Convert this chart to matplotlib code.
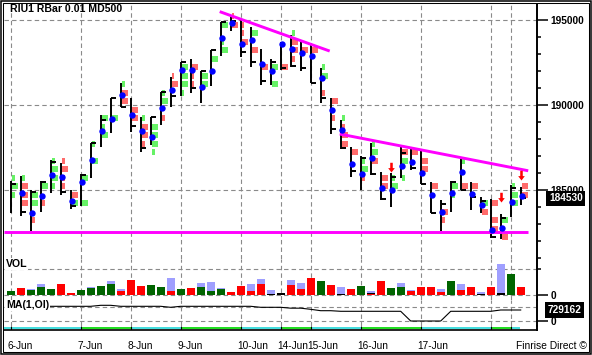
import numpy as np
import matplotlib.pyplot as plt
from matplotlib.path import Path
from matplotlib.patches import Rectangle
from matplotlib.transforms import blended_transform_factory

plt.rcParams['font.family'] = ['Liberation Sans', 'DejaVu Sans']

# range bars: high, low, right tick, blue dot
bar_high = [185565, 185840, 185020, 185550, 186780, 186620, 185020, 185960, 187770, 189430,
            190410, 191330, 190410, 189290, 189330, 190800, 191650, 192530, 192710, 192040,
            193250, 194920, 195310, 195020, 194620, 193290, 192710, 193740, 194140, 193740,
            193650, 192180, 190410, 189140, 187530, 187020, 187770, 186080, 186020, 187530,
            187470, 187330, 185510, 184430, 185550, 186980, 185510, 184620, 184490, 183610,
            185310, 185210]
bar_low = [183647, 183510, 182610, 183710, 184860, 184710, 183920, 184080, 185710, 187570,
           188390, 189920, 188450, 187270, 187670, 188840, 189880, 190550, 190710, 190150,
           191140, 192900, 194390, 192820, 192270, 191190, 191190, 192080, 192270, 192040,
           191290, 190150, 188310, 187410, 185800, 185020, 185900, 184430, 184000, 185710,
           186190, 185370, 183680, 182620, 183740, 185020, 183840, 183650, 182180, 182120,
           183450, 184140]
bar_tick = [185370, 183710, 184920, 185490, 186650, 184900, 184090, 185880, 187770, 189140,
            190410, 189920, 188780, 187470, 189310, 190800, 190550, 192530, 191000, 192000,
            193250, 194920, 194980, 193150, 192530, 191430, 192550, 192190, 192310, 192200,
            191290, 190410, 188590, 187470, 186140, 186880, 185960, 184490, 185800, 187210,
            186310, 185370, 183680, 184190, 185510, 185020, 184610, 184380, 182240, 183390,
            185140, 184530]
bar_dot = [np.nan, 184820, 183650, 184670, 185900, 185770, 184370, 185490, 186780, 188470,
           189180, 190610, 189430, 188470, 188120, 189820, 190900, 192060, 192060, 191060,
           192000, 193940, 194860, 193610, 193840, 192410, 192020, 193590, 193290, 193060,
           192900, 191590, 189720, 188550, 186550, 185960, 186880, 185120, 185020, 186430,
           186680, 186040, 184720, 183740, 184860, 186060, 184770, 184140, 182670, 182770,
           184330, 184670]

# profile cells next to each bar: (500-point price bin, code) G/R full, g/r narrow
profile = [
    [(185500, 'g'), (185000, 'G'), (184500, 'g')],
    [(185500, 'g'), (185000, 'R'), (184500, 'R'), (184000, 'R')],
    [(184500, 'G'), (184000, 'G'), (183000, 'r')],
    [(185000, 'G'), (184000, 'r')],
    [(186500, 'g'), (186000, 'G'), (185500, 'G'), (185000, 'g')],
    [(186500, 'r'), (186000, 'R'), (185500, 'r'), (185000, 'r')],
    [(184500, 'R'), (184000, 'G')],
    [(185500, 'G'), (184000, 'G')],
    [(187500, 'g'), (186500, 'G')],
    [(189000, 'G'), (188500, 'g'), (188000, 'G')],
    [(189000, 'G')],
    [(191000, 'g'), (190500, 'R'), (190000, 'R')],
    [(189500, 'R'), (189000, 'R')],
    [(189000, 'g'), (188500, 'R'), (188000, 'R'), (187500, 'r')],
    [(188500, 'G'), (188000, 'G'), (187500, 'G'), (187000, 'g')],
    [(190500, 'g'), (190000, 'G'), (189000, 'r')],
    [(191500, 'r'), (191000, 'R')],
    [(192000, 'G'), (191500, 'G'), (191000, 'G'), (190500, 'g')],
    [(192000, 'R'), (191500, 'r'), (191000, 'r')],
    [(191500, 'G'), (191000, 'G')],
    [(192500, 'G')],
    [(194500, 'G'), (193500, 'g'), (193000, 'G')],
    [(195000, 'r'), (194500, 'R')],
    [(194500, 'r'), (194000, 'r'), (193500, 'R')],
    [(194000, 'G'), (193000, 'R')],
    [(192000, 'R')],
    [(192000, 'G'), (191000, 'G')],
    [(192000, 'R')],
    [(194000, 'g'), (193500, 'R'), (193000, 'R'), (192500, 'r')],
    [(193000, 'R')],
    [(193000, 'R')],
    [(192000, 'g'), (191500, 'G'), (190500, 'r')],
    [(190000, 'R'), (189000, 'r')],
    [(189000, 'g'), (188500, 'r'), (188000, 'R'), (187500, 'R')],
    [(187000, 'R')],
    [(186500, 'g'), (186000, 'G'), (185500, 'r')],
    [(187500, 'g'), (187000, 'G'), (186500, 'R')],
    [(185500, 'R'), (185000, 'R')],
    [(185500, 'g'), (185000, 'G')],
    [(187000, 'R'), (186500, 'G'), (185500, 'g')],
    [(187000, 'R')],
    [(186500, 'R'), (186000, 'R')],
    [(185000, 'R')],
    [(183500, 'R'), (183000, 'r')],
    [(185000, 'G'), (184500, 'g')],
    [(186500, 'g'), (185000, 'R')],
    [(185000, 'R')],
    [(184000, 'G'), (183500, 'R')],
    [(184000, 'R'), (183000, 'R'), (182500, 'R')],
    [(183000, 'G'), (182000, 'R')],
    [(185000, 'g'), (184500, 'G'), (184000, 'G')],
    [(185000, 'R'), (184500, 'R')],
]

arrow_bars = [38, 49, 51]
arrow_tips = [186060, 184330, 185580]

# drawn lines (bar index, price)
trend_a_x, trend_a_y = [20.9, 31.9], [195510, 193190]
trend_b_x, trend_b_y = [32.9, 51.75], [188310, 186150]
support_x, support_y = [-0.72, 51.75], [182550, 182550]

# volume: main part, colour, black part, light blue part
vol_main = [4, 7, 5, 8, 6, 11, 1.7, 5, 7, 9, 11, 4, 15, 9, 10, 8, 4, 6, 7, 8, 4, 6, 3, 9, 4, 11,
            0, 0, 10, 6, 17, 14, 10, 0, 6, 9, 1.5, 14, 7, 8, 4, 8, 8, 3, 14, 5, 8, 0, 8, 0, 21, 8]
vol_col = ['g', 'r', 'g', 'g', 'g', 'r', 'r', 'g', 'g', 'g', 'g', 'r', 'r', 'r', 'g', 'g', 'r', 'g',
           'r', 'g', 'g', 'g', 'r', 'r', 'r', 'r', 'r', 'r', 'r', 'r', 'r', 'g', 'r', 'r', 'r', 'g',
           'r', 'r', 'g', 'g', 'r', 'r', 'r', 'r', 'g', 'r', 'r', 'r', 'r', 'r', 'g', 'r']
vol_blk = [0, 0, 0, 0, 0, 0, 0.7, 0, 0, 0, 0, 0, 0, 0, 0, 0, 0, 0, 0, 0, 0, 0, 0, 0, 0, 0,
           1.3, 2, 0, 0, 0, 0, 0, 1.3, 0, 0, 0.7, 0, 0, 0, 0, 0, 0, 0, 0, 0, 0, 1, 0, 2, 0, 0]
vol_lav = [0, 0, 1, 3, 0, 0, 0, 0, 1, 0, 3, 2, 0, 0, 0, 0, 13, 0, 0, 4, 9, 1, 0, 0, 7, 5,
           3.5, 0, 5, 6, 0, 0, 0, 6.5, 0, 0, 1.8, 0, 0, 4, 1, 0, 0, 3, 0, 6, 0, 2, 0, 29, 0, 0]

# MA(1,OI)
oi = [974000] * 9 + [1040000] * 2 + [974000] * 5 + [908000] + [974000] * 8 + [908000] * 3 + \
     [850000] * 2 + [775000] + [683000] * 2 + [643000] * 7 + [0] * 4 + [643000] * 5 + [729162] * 3

day_start = [0, 7, 12, 17, 23, 27, 30, 35, 41, 48, 50]
day_label = ['6-Jun', '7-Jun', '8-Jun', '9-Jun', '10-Jun', '14-Jun', '15-Jun', '16-Jun', '17-Jun', '', '']
last_price = 184530
last_oi = 729162

W, H = 592, 355


def box(top, bottom, left=3.5, right=537):
    return [left / W, 1 - bottom / H, (right - left) / W, (bottom - top) / H]


fig = plt.figure(figsize=(W / 100, H / 100), dpi=100)
ax_p = fig.add_axes(box(3.5, 259))
ax_v = fig.add_axes(box(259, 300))
ax_m = fig.add_axes(box(300, 325.5))
ax_s = fig.add_axes(box(325.5, 330))

idx = np.arange(len(bar_high))
grid_c = '#8a8a8a'
dash = (4, 2.8)

for ax in (ax_p, ax_v, ax_m, ax_s):
    ax.set_xlim(-0.72, 52.63)
    ax.patch.set_visible(False)
    for s in ('top', 'left', 'bottom'):
        ax.spines[s].set_visible(False)
    ax.spines['right'].set_linewidth(1.4)
    ax.set_xticks([])
    ax.yaxis.tick_right()
    ax.tick_params(axis='y', which='major', length=8, width=1.1, pad=1.5, labelsize=7.3)
    ax.tick_params(axis='y', which='minor', length=3, width=1.1)

for ax in (ax_p, ax_v, ax_m):
    for d in day_start:
        ax.axvline(d, color=grid_c, lw=0.8, dashes=dash, zorder=0.5)

# ---- price panel
ax_p.set_ylim(180959, 195988)
for p in (185000, 190000, 195000):
    ax_p.axhline(p, color=grid_c, lw=0.8, dashes=dash, zorder=0.5)

cx, cb, cw, cc = [], [], [], []
for i, rows in enumerate(profile):
    for p, code in rows:
        cx.append(i + 0.13)
        cb.append(p + 75)
        cw.append(0.6 if code.isupper() else 0.25)
        cc.append('#66f266' if code.lower() == 'g' else '#ff6b6b')
ax_p.bar(cx, 350, width=cw, bottom=cb, align='edge', color=cc, lw=0, zorder=1.5)

ax_p.vlines(idx, bar_low, bar_high, color='k', lw=1.4, zorder=2)
ax_p.hlines(bar_tick, idx, idx + 0.55, color='k', lw=1.4, zorder=2)
ax_p.plot(idx + 0.12, bar_dot, 'o', color='#0000ff', ms=4.6, mew=0, zorder=4)

for xs, ys in ((trend_a_x, trend_a_y), (trend_b_x, trend_b_y), (support_x, support_y)):
    ax_p.plot(xs, ys, color='#ff00ff', lw=2.1, solid_capstyle='butt', zorder=3)

arrow = Path([(0, 0), (-0.34, 0.45), (-0.13, 0.45), (-0.13, 1), (0.13, 1), (0.13, 0.45),
              (0.34, 0.45), (0, 0)], closed=True)
ax_p.plot(arrow_bars, arrow_tips, ls='none', marker=arrow, ms=14, color='#ff0000', mew=0, zorder=4)

ax_p.set_yticks([185000, 190000, 195000])
ax_p.set_yticklabels(['185000', '190000', '195000'], fontweight='bold')
ax_p.set_yticks(range(181000, 196000, 1000), minor=True)

tr = blended_transform_factory(ax_p.transAxes, ax_p.transData)
ax_p.text(1.0225, last_price, str(last_price), transform=tr, color='white', fontweight='bold',
          size=7.3, va='center', ha='left', zorder=6,
          bbox=dict(boxstyle='square,pad=0.25', fc='black', ec='none'))

# ---- volume panel
ax_v.set_ylim(-5, 36)
for v in (0, 26):
    ax_v.axhline(v, color=grid_c, lw=0.8, dashes=dash, zorder=0.5)
main_c = ['#006400' if c == 'g' else '#ff0000' for c in vol_col]
vm = np.array(vol_main, dtype=float)
vb = np.array(vol_blk, dtype=float)
ax_v.bar(idx, vm, width=0.8, color=main_c, lw=0, zorder=2)
ax_v.bar(idx, vb, width=0.8, bottom=vm, color='black', lw=0, zorder=2)
ax_v.bar(idx, vol_lav, width=0.8, bottom=vm + vb, color='#9f9fff', lw=0, zorder=2)
ax_v.set_yticks([0])
ax_v.set_yticklabels(['0'], fontweight='bold')
ax_v.set_yticks([26], minor=True)

# ---- MA(1,OI) panel
ax_m.set_ylim(-298300, 1392000)
for v in (0, 950000):
    ax_m.axhline(v, color=grid_c, lw=0.8, dashes=dash, zorder=0.5)
ax_m.plot(idx, oi, color='black', lw=0.8, zorder=2)
ax_m.set_yticks([0])
ax_m.set_yticklabels(['0'], fontweight='bold')
tr = blended_transform_factory(ax_m.transAxes, ax_m.transData)
ax_m.text(1.0206, last_oi, str(last_oi), transform=tr, color='white', fontweight='bold',
          size=7.3, va='center', ha='left', zorder=6,
          bbox=dict(boxstyle='square,pad=0.25', fc='black', ec='none'))

# ---- session strip
ax_s.set_ylim(330, 325.5)
ax_s.set_yticks([])
ax_s.spines['bottom'].set_visible(True)
ax_s.spines['bottom'].set_linewidth(1.2)
edges = [-0.72] + day_start[1:] + [50.93]
for k in range(len(day_start)):
    ax_s.bar(edges[k], 2.8, width=edges[k + 1] - edges[k], bottom=326.5, align='edge',
             color='#44dddd' if k % 2 == 0 else '#22dd22', lw=0)
ax_s.vlines(day_start, 325.5, 330, color='black', lw=0.8)

tr = blended_transform_factory(ax_s.transData, fig.transFigure)
for d, lbl in zip(day_start, day_label):
    ax_s.text(d - 0.35, 1 - 346 / H, lbl, transform=tr, va='center', ha='left', size=7.3)

# ---- texts and frame
fig.text(10 / W, 1 - 8.5 / H, 'RIU1 RBar 0.01 MD500', fontweight='bold', size=7.6, va='center')
fig.text(6 / W, 1 - 264 / H, 'VOL', fontweight='bold', size=7.6, va='center',
         bbox=dict(fc='white', ec='none', pad=0.5))
fig.text(6 / W, 1 - 305.5 / H, 'MA(1,OI)', fontweight='bold', size=7.6, va='center',
         bbox=dict(fc='white', ec='none', pad=0.5), zorder=5)
fig.text(587 / W, 1 - 346 / H, 'Finrise Direct \u00a9', size=7.4, va='center', ha='right')

fig.add_artist(Rectangle((0.75 / W, 0.75 / H), (W - 1.5) / W, (H - 1.5) / H, transform=fig.transFigure,
                         fill=False, ec='black', lw=1.1, zorder=-1))
fig.add_artist(Rectangle((3 / W, 3 / H), (W - 6) / W, (H - 6) / H, transform=fig.transFigure,
                         fill=False, ec='black', lw=0.75, zorder=-1))

fig.savefig('out.png', dpi=100)
